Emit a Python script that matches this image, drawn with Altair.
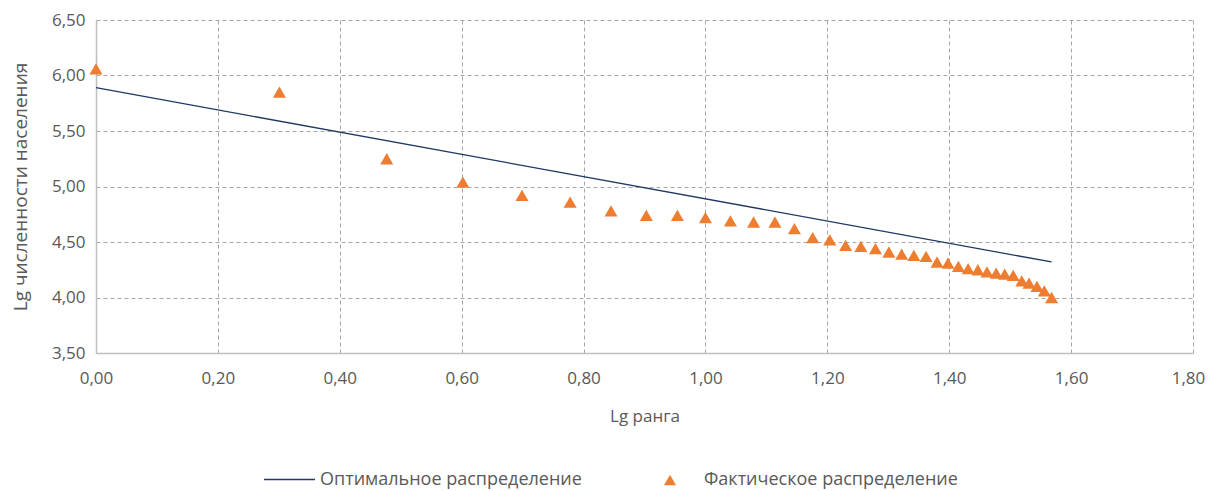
import altair as alt
import pandas as pd

# Lg rank (ranks 1..37)
lg_rank = [0.000, 0.301, 0.477, 0.602, 0.699, 0.778, 0.845, 0.903, 0.954, 1.000,
           1.041, 1.079, 1.114, 1.146, 1.176, 1.204, 1.230, 1.255, 1.279, 1.301,
           1.322, 1.342, 1.362, 1.380, 1.398, 1.415, 1.431, 1.447, 1.462, 1.477,
           1.491, 1.505, 1.519, 1.531, 1.544, 1.556, 1.568]
# Actual distribution (Lg population)
lg_pop_actual = [6.06, 5.85, 5.25, 5.04, 4.92, 4.86, 4.78, 4.74, 4.74, 4.72,
                 4.69, 4.68, 4.68, 4.62, 4.54, 4.52, 4.47, 4.46, 4.44, 4.41,
                 4.39, 4.38, 4.37, 4.32, 4.31, 4.28, 4.26, 4.25, 4.23, 4.22,
                 4.21, 4.20, 4.15, 4.13, 4.10, 4.06, 4.00]
# Optimal distribution line endpoints
opt_x = [0.000, 1.568]
opt_y = [5.89, 4.32]

name_opt = "Оптимальное распределение"
name_act = "Фактическое распределение"

df_act = pd.DataFrame({"x": lg_rank, "y": lg_pop_actual, "s": name_act})
df_opt = pd.DataFrame({"x": opt_x, "y": opt_y, "s": name_opt})

FONT = "Open Sans"
FS = 17
LFS = 18
GRAY = "#595959"
label_expr = "replace(format(datum.value, '.2f'), '.', ',')"

x_enc = alt.X("x:Q", scale=alt.Scale(domain=[0, 1.8], nice=False),
              axis=alt.Axis(title="Lg ранга", values=[0, 0.2, 0.4, 0.6, 0.8, 1.0, 1.2, 1.4, 1.6, 1.8],
                            labelExpr=label_expr, labelFlush=False,
                            labelOffset={"condition": {"test": "datum.value > 1.75", "value": -5}, "value": 0},
                            titlePadding=22, labelPadding=17))
y_enc = alt.Y("y:Q", scale=alt.Scale(domain=[3.5, 6.5], nice=False, zero=False),
              axis=alt.Axis(title="Lg численности населения", values=[3.5, 4.0, 4.5, 5.0, 5.5, 6.0, 6.5],
                            labelExpr=label_expr, labelFlush=False, titleFontSize=19,
                            titlePadding=21, labelPadding=11))

line = alt.Chart(df_opt).mark_line(strokeWidth=1.3).encode(
    x=x_enc, y=y_enc,
    color=alt.Color("s:N", scale=alt.Scale(domain=[name_opt], range=["#1F3864"]),
                    legend=alt.Legend(title=None, orient="none", legendX=167, legendY=433, padding=0,
                                      symbolType="stroke", symbolSize=2600, symbolStrokeWidth=1.3,
                                      labelFontSize=LFS, labelColor=GRAY, labelFont=FONT,
                                      labelOffset=4, labelLimit=500)),
)

pts = alt.Chart(df_act).mark_point(shape="triangle-up", filled=True, size=170, opacity=1).encode(
    x=x_enc, y=y_enc,
    fill=alt.Fill("s:N", scale=alt.Scale(domain=[name_act], range=["#ED7D31"]),
                  legend=alt.Legend(title=None, orient="none", legendX=565, legendY=451, padding=0,
                                    symbolType="triangle-up", symbolSize=144,
                                    symbolFillColor="#ED7D31", symbolStrokeWidth=0,
                                    labelFontSize=LFS, labelColor=GRAY, labelFont=FONT,
                                    labelOffset=25, labelLimit=500)),
)

chart = alt.layer(line, pts).properties(
    width=1097, height=333,
    autosize=alt.AutoSizeParams(type="none"),
    padding={"left": 88, "top": 12, "right": 13, "bottom": 145},
).configure_view(stroke=None).configure_axis(
    grid=True, gridColor="#A6A6A6", gridDash=[4, 3], gridWidth=1,
    domain=False, ticks=False,
    labelFont=FONT, labelFontSize=FS, labelColor=GRAY,
    titleFont=FONT, titleFontSize=FS, titleColor=GRAY, titleFontWeight="normal",
).configure_axisX(domain=True, domainColor="#BFBFBF", domainWidth=1.5).configure_axisY(
    domain=True, domainColor="#BFBFBF", domainWidth=1.5
)

chart.save("out.html", embed_options={"renderer": "svg", "actions": False})
